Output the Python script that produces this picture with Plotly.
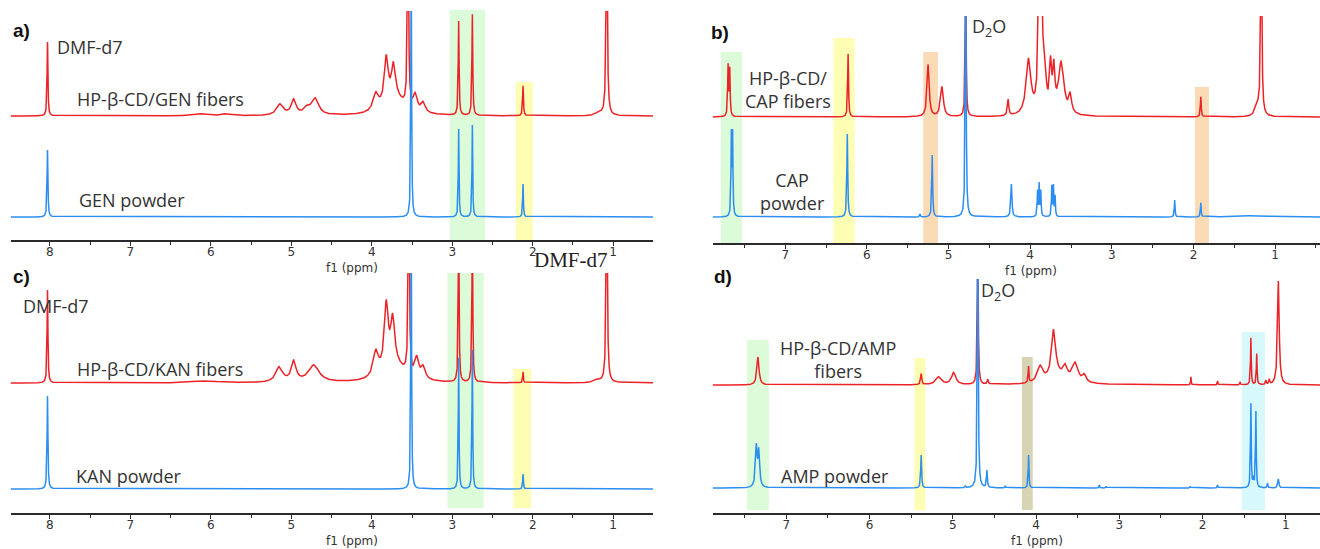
import numpy as np
import plotly.graph_objects as go

W, H = 1320, 549

# ---------------- peak lists (ppm, height, half-width) ----------------
# a) GEN in DMF-d7
a_fib_ppm = [8.03, 6.10, 5.80, 5.14, 4.97, 4.80, 4.70, 3.95, 3.82, 3.73, 3.70, 3.55, 3.46, 3.36, 2.92, 2.75, 2.12, 1.08, 1.18]
a_fib_int = [74, 2, 2, 11, 15, 7, 16, 17, 47, 34, 15, 220, 16, 10, 94, 101, 30, 200, 3]
a_fib_w = [0.006, 0.10, 0.06, 0.05, 0.035, 0.05, 0.05, 0.04, 0.03, 0.03, 0.15, 0.008, 0.03, 0.03, 0.006, 0.006, 0.006, 0.009, 0.05]
a_pow_ppm = [8.03, 3.51, 2.92, 2.75, 2.12]
a_pow_int = [67, 280, 88, 92, 33]
a_pow_w = [0.006, 0.005, 0.005, 0.005, 0.005]

# b) CAP in D2O
b_fib_ppm = [7.70, 7.68, 6.23, 5.25, 5.08, 4.79, 4.27, 4.02, 3.89, 3.86, 3.82, 3.75, 3.71, 3.62, 3.51, 1.91, 1.17, 1.22]
b_fib_int = [50, 46, 63, 52, 30, 160, 16, 55, 130, 110, 35, 45, 40, 52, 18, 20, 180, 10]
b_fib_w = [0.006, 0.006, 0.006, 0.015, 0.02, 0.006, 0.01, 0.035, 0.015, 0.015, 0.02, 0.015, 0.015, 0.04, 0.02, 0.006, 0.009, 0.03]
b_pow_ppm = [7.66, 7.645, 6.24, 5.35, 5.20, 4.79, 4.23, 3.91, 3.89, 3.87, 3.735, 3.715, 3.695, 2.23, 1.91, 1.25]
b_pow_int = [80, 80, 83, 3, 62, 280, 33, 25, 32, 25, 30, 30, 20, 17, 14, 1.5]
b_pow_w = [0.005, 0.005, 0.006, 0.005, 0.006, 0.006, 0.008, 0.005, 0.005, 0.005, 0.005, 0.005, 0.005, 0.005, 0.005, 0.2]

# c) KAN in DMF-d7
c_fib_ppm = [8.03, 6.05, 5.15, 4.97, 4.72, 3.95, 3.82, 3.74, 3.70, 3.54, 3.44, 3.36, 2.92, 2.75, 2.12, 1.08, 1.20]
c_fib_int = [93, 2, 15, 20, 17, 25, 66, 46, 15, 220, 20, 12, 160, 160, 11, 200, 3]
c_fib_w = [0.006, 0.15, 0.05, 0.035, 0.08, 0.04, 0.03, 0.03, 0.15, 0.008, 0.03, 0.03, 0.006, 0.006, 0.005, 0.009, 0.05]
c_pow_ppm = [8.03, 3.51, 2.92, 2.75, 2.12]
c_pow_int = [93, 300, 131, 139, 15]
c_pow_w = [0.006, 0.005, 0.005, 0.005, 0.005]

# d) AMP in D2O
d_fib_ppm = [7.34, 5.38, 5.17, 4.99, 4.70, 4.58, 4.09, 3.95, 3.79, 3.70, 3.65, 3.53, 3.42, 2.14, 1.82, 1.55, 1.42, 1.35, 1.24, 1.20, 1.09]
d_fib_int = [28, 11, 8, 12, 160, 5, 16, 16, 48, 8, 10, 18, 7, 8, 4, 3, 47, 31, 4, 5, 104]
d_fib_w = [0.015, 0.008, 0.04, 0.03, 0.006, 0.008, 0.005, 0.04, 0.03, 0.15, 0.025, 0.04, 0.025, 0.004, 0.004, 0.004, 0.005, 0.005, 0.006, 0.006, 0.012]
d_pow_ppm = [7.36, 7.33, 5.38, 4.85, 4.70, 4.59, 4.37, 4.09, 3.24, 3.16, 2.15, 1.82, 1.42, 1.39, 1.36, 1.22, 1.09]
d_pow_int = [40, 35, 33, 2, 280, 17, 2, 33, 3, 1.5, 1.5, 3, 84, 8, 76, 5, 9]
d_pow_w = [0.012, 0.012, 0.006, 0.005, 0.006, 0.006, 0.005, 0.005, 0.005, 0.005, 0.005, 0.005, 0.005, 0.006, 0.005, 0.005, 0.008]

tick_vals = [1, 2, 3, 4, 5, 6, 7, 8]
tick_text = ["1", "2", "3", "4", "5", "6", "7", "8"]

RED = "#ec2226"
BLUE = "#2b8ef0"

# ---------------- layout of the four panels (pixels) ----------------
panels = [
    dict(x0=10.5, x1=653, top=11, axis=240, blue=217, red=116, ppm=(8.49, 0.505),
         fib=(a_fib_ppm, a_fib_int, a_fib_w), pow=(a_pow_ppm, a_pow_int, a_pow_w)),
    dict(x0=712.6, x1=1320, top=16, axis=243, blue=217, red=117, ppm=(7.89, 0.45),
         fib=(b_fib_ppm, b_fib_int, b_fib_w), pow=(b_pow_ppm, b_pow_int, b_pow_w)),
    dict(x0=10.5, x1=653, top=273, axis=513, blue=489, red=383, ppm=(8.49, 0.505),
         fib=(c_fib_ppm, c_fib_int, c_fib_w), pow=(c_pow_ppm, c_pow_int, c_pow_w)),
    dict(x0=712.6, x1=1320, top=279, axis=513, blue=488, red=385, ppm=(7.885, 0.59),
         fib=(d_fib_ppm, d_fib_int, d_fib_w), pow=(d_pow_ppm, d_pow_int, d_pow_w)),
]

# highlight bands: (panel, ppm_hi, ppm_lo, top px, bottom px, colour)
GREEN, YELLOW, ORANGE, OLIVE, CYAN = "#dcfbd8", "#fdfdb4", "#fbdab6", "#d7d4b4", "#d8f9fb"
bands = [
    (0, 3.03, 2.59, 10, 240, GREEN), (0, 2.21, 2.00, 82, 240, YELLOW),
    (1, 7.79, 7.53, 52, 243, GREEN), (1, 6.41, 6.15, 38, 243, YELLOW),
    (1, 5.31, 5.13, 52, 243, ORANGE), (1, 1.98, 1.81, 87, 243, ORANGE),
    (2, 3.06, 2.61, 273, 508, GREEN), (2, 2.24, 2.02, 369, 508, YELLOW),
    (3, 7.47, 7.21, 340, 510, GREEN), (3, 5.46, 5.33, 358, 510, YELLOW),
    (3, 4.17, 4.04, 357, 510, OLIVE), (3, 1.53, 1.25, 332, 510, CYAN),
]


def spectrum(grid, peaks, offset):
    pp, hh, ww = peaks
    y = np.full_like(grid, float(offset))
    for p, h, w in zip(pp, hh, ww):
        y += h * w * w / ((grid - p) ** 2 + w * w)
    return y


fig = go.Figure()
layout = dict(width=W, height=H, margin=dict(l=0, r=0, t=0, b=0),
              paper_bgcolor="white", plot_bgcolor="rgba(0,0,0,0)", showlegend=False)
shapes = []

for i, P in enumerate(panels):
    n = "" if i == 0 else str(i + 1)
    hi, lo = P["ppm"]
    grid = np.arange(lo, hi, 0.001)
    off = P["blue"] - P["red"]
    fig.add_trace(go.Scatter(x=grid, y=spectrum(grid, P["fib"], off), mode="lines",
                             line=dict(color=RED, width=1.5), xaxis="x" + n, yaxis="y" + n,
                             hoverinfo="skip"))
    fig.add_trace(go.Scatter(x=grid, y=spectrum(grid, P["pow"], 0), mode="lines",
                             line=dict(color=BLUE, width=1.5), xaxis="x" + n, yaxis="y" + n,
                             hoverinfo="skip"))
    layout["xaxis" + n] = dict(
        domain=[P["x0"] / W, P["x1"] / W], range=[hi, lo], anchor="y" + n,
        showline=True, linecolor="#2a2a2a", linewidth=2, showgrid=False, zeroline=False,
        ticks="outside", ticklen=4, tickwidth=1.3, tickcolor="#2a2a2a",
        tickmode="array", tickvals=tick_vals, ticktext=tick_text, ticklabelstandoff=-4,
        tickfont=dict(family="DejaVu Sans", size=12, color="#333"),
        minor=dict(tickmode="array", tickvals=[v + 0.5 for v in [0] + tick_vals],
                   ticks="outside", ticklen=3, tickwidth=1, tickcolor="#2a2a2a"),
    )
    layout["yaxis" + n] = dict(
        domain=[1 - P["axis"] / H, 1 - P["top"] / H],
        range=[-(P["axis"] - P["blue"]), P["blue"] - P["top"]], anchor="x" + n,
        visible=False, fixedrange=True,
    )

for (pi, a, b, t, bt, col) in bands:
    n = "" if pi == 0 else str(pi + 1)
    shapes.append(dict(type="rect", xref="x" + n, yref="paper", x0=a, x1=b,
                       y0=1 - bt / H, y1=1 - t / H, fillcolor=col, line=dict(width=0),
                       layer="below"))

LAB = dict(family="Open Sans", size=18, color="#333")
BOLD = dict(family="Liberation Sans", size=19, color="#111")
TICKF = dict(family="DejaVu Sans", size=12, color="#333")


def ann(x, y, text, font, xanchor="left", align="left"):
    return dict(x=x / W, y=1 - y / H, xref="paper", yref="paper", text=text, showarrow=False,
                xanchor=xanchor, yanchor="middle", font=font, align=align)


annotations = [
    ann(11, 31, "<b>a)</b>", BOLD),
    ann(55, 47, "DMF-d7", LAB),
    ann(75, 99, "HP-β-CD/GEN fibers", LAB),
    ann(77, 200, "GEN powder", LAB),
    ann(352, 268, "f1 (ppm)", TICKF, "center"),
    ann(532, 260, "DMF-d7", dict(family="Liberation Serif", size=21, color="#222")),

    ann(709, 33, "<b>b)</b>", BOLD),
    ann(970, 27, "D<sub>2</sub>O", LAB),
    ann(788, 89, "HP-β-CD/<br>CAP fibers", LAB, "center", "center"),
    ann(792, 191, "CAP<br>powder", LAB, "center", "center"),
    ann(1031, 271, "f1 (ppm)", TICKF, "center"),

    ann(11, 276, "<b>c)</b>", BOLD),
    ann(21, 306, "DMF-d7", LAB),
    ann(75, 369, "HP-β-CD/KAN fibers", LAB),
    ann(74, 476, "KAN powder", LAB),
    ann(352, 541, "f1 (ppm)", TICKF, "center"),

    ann(712, 276, "<b>d)</b>", BOLD),
    ann(979, 291, "D<sub>2</sub>O", LAB),
    ann(838, 359, "HP-β-CD/AMP<br>fibers", LAB, "center", "center"),
    ann(779, 476, "AMP powder", LAB),
    ann(1037, 541, "f1 (ppm)", TICKF, "center"),
]

layout["shapes"] = shapes
layout["annotations"] = annotations
fig.update_layout(**layout)
fig.write_html("out.html", config={"displayModeBar": False},
               post_script="document.body.style.margin='0px';document.body.style.overflow='hidden';")
